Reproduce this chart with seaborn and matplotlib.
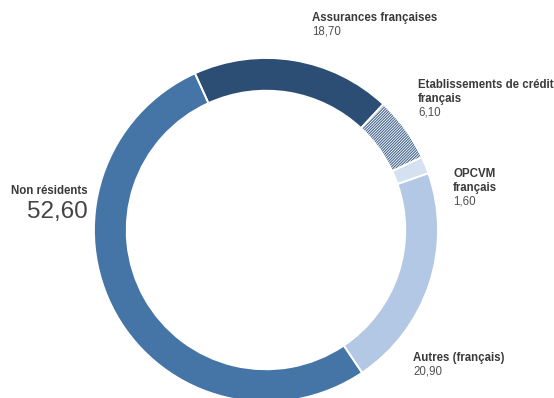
import matplotlib
matplotlib.use("Agg")
import matplotlib.pyplot as plt
import seaborn as sns

# Répartition de la détention (en %)
categories = ["Assurances françaises", "Etablissements de crédit\nfrançais",
              "OPCVM\nfrançais", "Autres (français)", "Non résidents"]
values = [18.70, 6.10, 1.60, 20.90, 52.60]
value_labels = ["18,70", "6,10", "1,60", "20,90", "52,60"]
colors = ["#2d4e74", "#ffffff", "#d5e1f1", "#b3c8e5", "#4575a6"]
hatches = [None, "////////////", None, None, None]

sns.set_theme(style="white")
plt.rcParams["font.family"] = ["Liberation Sans", "DejaVu Sans"]
plt.rcParams["hatch.linewidth"] = 0.8

W, H = 554, 398
fig = plt.figure(figsize=(W / 100, H / 100), dpi=100)
fig.patch.set_facecolor("white")

# ring centre and outer radius in pixels
cx, cy, R = 266, 230, 172
ax = fig.add_axes([(cx - R) / W, (H - cy - R) / H, 2 * R / W, 2 * R / H])

wedges, _ = ax.pie(values, colors=colors, startangle=114.4, counterclock=False,
                   wedgeprops=dict(width=0.19, linewidth=0))
for w, h in zip(wedges, hatches):
    if h:
        w.set_hatch(h)
        w.set_edgecolor("#46678d")
        w.set_linewidth(0)

# white separators between segments
ax.pie(values, colors=["none"] * len(values), startangle=114.4, counterclock=False,
       wedgeprops=dict(width=0.19, linewidth=1.3, edgecolor="white", fill=False))
ax.set_xlim(-1, 1)
ax.set_ylim(-1, 1)
ax.set_aspect("auto")
ax.axis("off")


def px(x, y):
    return x / W, 1 - y / H


label_color = "#3a3a3a"
value_color = "#505050"
fs = 8.3
step = 13.7

# (x, baseline y of first name line) for each label
pos = [(312, 21), (418, 88), (453, 177), (413, 361)]
for (x, y), name, val in zip(pos, categories[:4], value_labels[:4]):
    lines = name.split("\n")
    for i, line in enumerate(lines):
        fig.text(*px(x, y + step * i), line, ha="left", va="baseline",
                 fontsize=fs, fontweight="bold", color=label_color)
    fig.text(*px(x, y + step * len(lines)), val, ha="left", va="baseline",
             fontsize=fs, color=value_color)

# main label
fig.text(*px(88, 194), categories[4], ha="right", va="baseline", fontsize=fs,
         fontweight="bold", color=label_color)
fig.text(*px(88, 218), value_labels[4], ha="right", va="baseline", fontsize=17.5,
         color="#444444")

fig.savefig("out.png", dpi=100, facecolor="white")
